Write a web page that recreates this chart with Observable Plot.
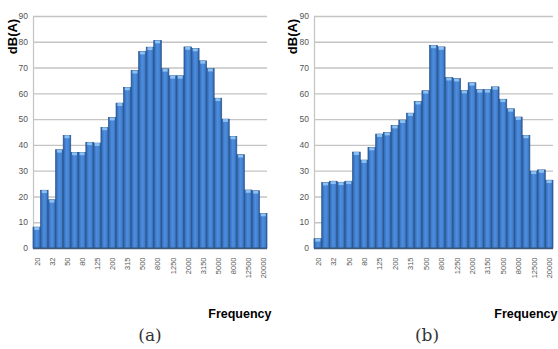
<!DOCTYPE html>
<html>
<head>
<meta charset="utf-8">
<script src="https://cdn.jsdelivr.net/npm/d3@7"></script>
<script src="https://cdn.jsdelivr.net/npm/@observablehq/plot@0.6"></script>
<style>
  body { margin: 0; background: #fff; }
  #wrap { position: relative; width: 558px; height: 349px; overflow: hidden; }
  .panel { position: absolute; top: 0; }
  .cap {
    position: absolute; top: 327px; line-height: 1;
    font-family: "DejaVu Serif", "Liberation Serif", serif;
    font-size: 17px; color: #333; transform: translateX(-50%);
  }
</style>
</head>
<body>
<div id="wrap"></div>
<script>
// One-third octave band centre frequencies (Hz)
const bands = ["20","25","32","40","50","63","80","100","125","160","200","250","315","400","500",
  "630","800","1000","1250","1600","2000","2500","3150","4000","5000","6300","8000","10000",
  "12500","16000","20000"];

// Every other band is labelled on the axis
const tickLabels = ["20","32","50","80","125","200","315","500","800","1250","2000","3150",
  "5000","8000","12500","20000"];

const yTicks = [0, 10, 20, 30, 40, 50, 60, 70, 80, 90];

// A-weighted band levels, dB(A)
const levelsA = [8.1, 22.4, 18.7, 38.1, 43.7, 37.1, 37.1, 41.0, 40.7, 46.8, 50.6, 56.2, 62.3,
  68.8, 76.2, 77.9, 80.5, 69.5, 66.8, 66.8, 78.0, 77.4, 72.6, 69.6, 58.1, 50.0, 43.3, 36.2,
  22.5, 22.2, 13.4];

const levelsB = [3.6, 25.4, 25.9, 25.5, 25.9, 37.2, 34.1, 39.0, 44.2, 44.8, 47.5, 49.6, 52.3,
  56.8, 61.0, 78.6, 78.0, 66.1, 65.7, 61.1, 64.1, 61.4, 61.4, 62.5, 57.7, 54.0, 50.8, 43.7,
  29.8, 30.3, 26.3];

const wrap = document.getElementById("wrap");

function drawPanel(levels, {left, width, marginLeft, marginRight, gradId, labelDx, caption, capX}) {
  const data = bands.map((band, i) => ({band, level: levels[i]}));
  const svg = Plot.plot({
    width,
    height: 320,
    marginLeft,
    marginRight,
    marginTop: 16,
    marginBottom: 72,
    style: {background: "transparent", overflow: "visible"},
    x: {domain: bands, padding: 0, round: false, label: null},
    y: {domain: [0, 90], label: null},
    marks: [
      Plot.gridY(yTicks.slice(1), {stroke: "#c4c4c4", strokeOpacity: 1, strokeWidth: 1.4}),
      Plot.frame({anchor: "left", stroke: "#c4c4c4", strokeWidth: 1.2}),
      Plot.barY(data, {x: "band", y: "level", fill: `url(#${gradId})`, stroke: "#2a548c", strokeWidth: 0.7}),
      Plot.rectY(data, {x: "band", y1: d => d.level - 1.1, y2: "level", fill: "#8cc1f1", insetLeft: 1.3, insetRight: 1.3}),
      Plot.ruleY([0], {stroke: "#3f5778", strokeWidth: 1.6}),
      Plot.axisY(yTicks, {
        tickSize: 0, tickPadding: 5.5, fontSize: 8.5, label: null, color: "#555",
        fontFamily: "'Liberation Sans', Arial, sans-serif"
      }),
      Plot.axisX(tickLabels, {
        tickSize: 0, tickRotate: -90, tickPadding: 9, fontSize: 7.5, label: null, color: "#555",
        fontFamily: "'Liberation Sans', Arial, sans-serif"
      }),
      Plot.text(["Frequency"], {
        frameAnchor: "bottom-right", dx: 4, dy: 69, textAnchor: "end", lineAnchor: "bottom",
        fontSize: 12.5, fontWeight: "bold", fill: "#000",
        fontFamily: "'Liberation Sans', Arial, sans-serif"
      }),
      Plot.text(["dB(A)"], {
        frameAnchor: "top-left", dx: labelDx, dy: 20, rotate: -90,
        textAnchor: "middle", lineAnchor: "middle",
        fontSize: 13, fontWeight: "bold", fill: "#000",
        fontFamily: "'Liberation Sans', Arial, sans-serif"
      })
    ]
  });

  // Bar shading: darker edges, lighter centre
  d3.select(svg).insert("defs", ":first-child").html(`
    <linearGradient id="${gradId}" x1="0" y1="0" x2="1" y2="0">
      <stop offset="0" stop-color="#2b5b9c"/>
      <stop offset="0.18" stop-color="#3a76c6"/>
      <stop offset="0.45" stop-color="#4f8edc"/>
      <stop offset="0.75" stop-color="#4382d2"/>
      <stop offset="1" stop-color="#2d5c9d"/>
    </linearGradient>`);

  svg.classList.add("panel");
  svg.style.left = left + "px";
  wrap.appendChild(svg);

  const cap = document.createElement("div");
  cap.className = "cap";
  cap.style.left = capX + "px";
  cap.textContent = caption;
  wrap.appendChild(cap);
}

drawPanel(levelsA, {left: 0, width: 279, marginLeft: 33, marginRight: 12, gradId: "barShadeA", labelDx: -21, caption: "(a)", capX: 150});
drawPanel(levelsB, {left: 279, width: 279, marginLeft: 35, marginRight: 5, gradId: "barShadeB", labelDx: -22, caption: "(b)", capX: 427});
</script>
</body>
</html>
